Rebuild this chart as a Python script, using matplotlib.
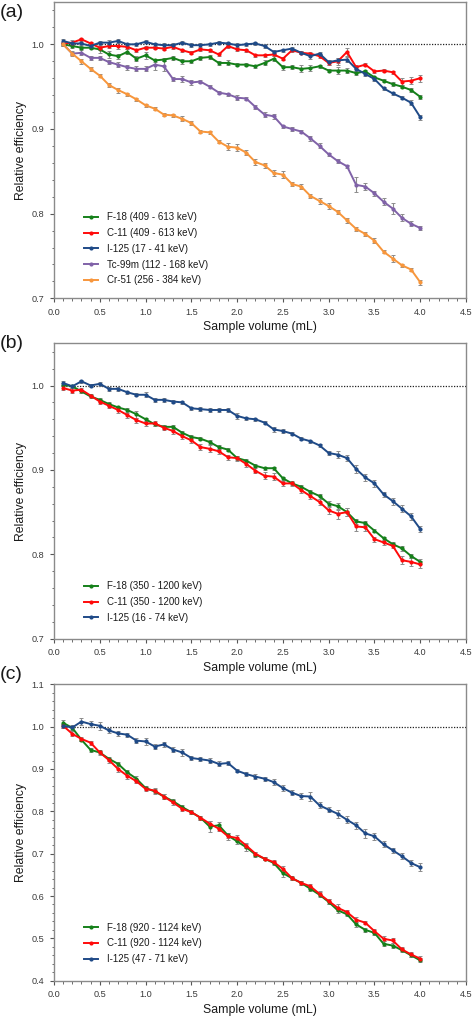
import matplotlib
matplotlib.use("Agg")
import matplotlib.pyplot as plt
from matplotlib.ticker import MultipleLocator

plt.rcParams['font.family'] = ['Liberation Sans', 'DejaVu Sans']

# ---------------- data ----------------
volume = [0.1, 0.2, 0.3, 0.4, 0.5, 0.6, 0.7, 0.8, 0.9, 1.0,
          1.1, 1.2, 1.3, 1.4, 1.5, 1.6, 1.7, 1.8, 1.9, 2.0,
          2.1, 2.2, 2.3, 2.4, 2.5, 2.6, 2.7, 2.8, 2.9, 3.0,
          3.1, 3.2, 3.3, 3.4, 3.5, 3.6, 3.7, 3.8, 3.9, 4.0]

# Panel (a)
a_labels = ["F-18 (409 - 613 keV)", "C-11 (409 - 613 keV)", "I-125 (17 - 41 keV)",
            "Tc-99m (112 - 168 keV)", "Cr-51 (256 - 384 keV)"]
a_f18 = [1.000, 0.998, 0.996, 0.996, 0.994, 0.988, 0.986, 0.991, 0.983, 0.987,
         0.981, 0.982, 0.984, 0.980, 0.980, 0.984, 0.985, 0.978, 0.978, 0.976,
         0.976, 0.974, 0.978, 0.983, 0.973, 0.973, 0.971, 0.972, 0.974, 0.969,
         0.969, 0.969, 0.966, 0.968, 0.961, 0.957, 0.953, 0.950, 0.946, 0.938]
a_c11 = [1.001, 1.002, 1.006, 1.001, 0.996, 0.998, 0.998, 0.997, 0.993, 0.996,
         0.996, 0.995, 0.997, 0.993, 0.990, 0.994, 0.993, 0.988, 0.998, 0.994,
         0.993, 0.987, 0.987, 0.988, 0.983, 0.993, 0.990, 0.989, 0.986, 0.978,
         0.980, 0.991, 0.973, 0.976, 0.968, 0.969, 0.967, 0.956, 0.957, 0.960]
a_i125 = [1.004, 1.001, 1.001, 0.998, 1.002, 1.002, 1.004, 1.000, 1.000, 1.003,
          1.000, 0.999, 0.999, 1.002, 0.999, 0.999, 1.000, 1.002, 1.001, 0.999,
          1.000, 1.001, 0.998, 0.991, 0.993, 0.995, 0.990, 0.986, 0.989, 0.979,
          0.981, 0.982, 0.971, 0.965, 0.959, 0.948, 0.942, 0.937, 0.931, 0.914]
a_tc99m = [1.000, 0.989, 0.990, 0.984, 0.984, 0.979, 0.976, 0.973, 0.971, 0.971,
           0.976, 0.974, 0.959, 0.959, 0.955, 0.956, 0.950, 0.943, 0.941, 0.937,
           0.936, 0.926, 0.917, 0.915, 0.903, 0.900, 0.897, 0.889, 0.880, 0.870,
           0.862, 0.856, 0.834, 0.832, 0.824, 0.814, 0.806, 0.795, 0.788, 0.783]
a_cr51 = [1.000, 0.989, 0.980, 0.971, 0.963, 0.952, 0.946, 0.941, 0.935, 0.928,
          0.924, 0.917, 0.916, 0.912, 0.907, 0.897, 0.896, 0.885, 0.879, 0.878,
          0.872, 0.861, 0.857, 0.848, 0.846, 0.835, 0.832, 0.821, 0.815, 0.809,
          0.802, 0.792, 0.782, 0.776, 0.768, 0.755, 0.747, 0.739, 0.734, 0.719]
a_f18_err = [0.002, 0.002, 0.002, 0.002, 0.004, 0.004, 0.003, 0.003, 0.003, 0.004,
             0.002, 0.002, 0.002, 0.003, 0.002, 0.002, 0.002, 0.002, 0.003, 0.002,
             0.002, 0.002, 0.003, 0.003, 0.003, 0.002, 0.004, 0.003, 0.002, 0.002,
             0.004, 0.003, 0.002, 0.002, 0.002, 0.002, 0.002, 0.002, 0.002, 0.002]
a_c11_err = [0.002, 0.003, 0.002, 0.002, 0.003, 0.002, 0.003, 0.002, 0.002, 0.002,
             0.002, 0.002, 0.002, 0.002, 0.002, 0.002, 0.002, 0.002, 0.002, 0.002,
             0.002, 0.002, 0.002, 0.002, 0.002, 0.002, 0.002, 0.002, 0.002, 0.003,
             0.004, 0.005, 0.002, 0.002, 0.002, 0.002, 0.002, 0.004, 0.004, 0.004]
a_i125_err = [0.002, 0.002, 0.002, 0.002, 0.002, 0.003, 0.002, 0.002, 0.002, 0.002,
              0.002, 0.002, 0.002, 0.002, 0.002, 0.002, 0.002, 0.002, 0.002, 0.002,
              0.002, 0.002, 0.002, 0.002, 0.002, 0.002, 0.002, 0.003, 0.002, 0.003,
              0.003, 0.003, 0.002, 0.002, 0.002, 0.002, 0.002, 0.002, 0.003, 0.003]
a_tc99m_err = [0.002, 0.002, 0.003, 0.002, 0.002, 0.002, 0.003, 0.003, 0.003, 0.003,
               0.006, 0.006, 0.002, 0.003, 0.003, 0.002, 0.002, 0.002, 0.002, 0.003,
               0.002, 0.002, 0.003, 0.003, 0.002, 0.002, 0.002, 0.003, 0.003, 0.002,
               0.002, 0.002, 0.009, 0.004, 0.003, 0.004, 0.006, 0.004, 0.003, 0.002]
a_cr51_err = [0.002, 0.003, 0.003, 0.002, 0.002, 0.002, 0.003, 0.002, 0.002, 0.002,
              0.002, 0.002, 0.002, 0.003, 0.002, 0.002, 0.002, 0.002, 0.004, 0.004,
              0.003, 0.003, 0.003, 0.003, 0.004, 0.002, 0.003, 0.002, 0.004, 0.003,
              0.002, 0.003, 0.002, 0.002, 0.003, 0.002, 0.004, 0.002, 0.002, 0.003]

# Panel (b)
b_labels = ["F-18 (350 - 1200 keV)", "C-11 (350 - 1200 keV)", "I-125 (16 - 74 keV)"]
b_f18 = [1.001, 0.999, 0.993, 0.987, 0.983, 0.978, 0.974, 0.971, 0.966, 0.960,
         0.954, 0.951, 0.951, 0.944, 0.939, 0.937, 0.933, 0.927, 0.924, 0.914,
         0.911, 0.905, 0.902, 0.902, 0.890, 0.884, 0.880, 0.874, 0.869, 0.860,
         0.857, 0.850, 0.839, 0.837, 0.828, 0.819, 0.812, 0.807, 0.798, 0.791]
b_c11 = [0.997, 0.994, 0.995, 0.988, 0.981, 0.976, 0.971, 0.965, 0.959, 0.955,
         0.955, 0.950, 0.946, 0.940, 0.935, 0.927, 0.925, 0.922, 0.915, 0.914,
         0.907, 0.899, 0.893, 0.892, 0.884, 0.884, 0.876, 0.869, 0.862, 0.852,
         0.848, 0.850, 0.833, 0.832, 0.818, 0.814, 0.810, 0.793, 0.791, 0.788]
b_i125 = [1.003, 0.999, 1.005, 1.000, 1.002, 0.996, 0.996, 0.992, 0.989, 0.989,
          0.983, 0.983, 0.981, 0.980, 0.973, 0.972, 0.971, 0.971, 0.971, 0.964,
          0.961, 0.960, 0.956, 0.948, 0.946, 0.943, 0.937, 0.934, 0.929, 0.920,
          0.918, 0.914, 0.901, 0.891, 0.884, 0.871, 0.863, 0.854, 0.845, 0.830]
b_f18_err = [0.002, 0.002, 0.002, 0.002, 0.002, 0.002, 0.002, 0.002, 0.004, 0.002,
             0.002, 0.002, 0.002, 0.002, 0.002, 0.002, 0.002, 0.002, 0.002, 0.002,
             0.002, 0.002, 0.002, 0.002, 0.002, 0.002, 0.002, 0.002, 0.003, 0.003,
             0.004, 0.005, 0.003, 0.002, 0.002, 0.002, 0.002, 0.003, 0.002, 0.003]
b_c11_err = [0.002, 0.003, 0.002, 0.002, 0.003, 0.003, 0.004, 0.003, 0.003, 0.003,
             0.003, 0.003, 0.003, 0.003, 0.003, 0.004, 0.004, 0.003, 0.003, 0.003,
             0.003, 0.003, 0.004, 0.004, 0.003, 0.003, 0.003, 0.003, 0.003, 0.004,
             0.006, 0.005, 0.005, 0.004, 0.003, 0.003, 0.003, 0.005, 0.005, 0.004]
b_i125_err = [0.002, 0.002, 0.002, 0.002, 0.002, 0.002, 0.002, 0.002, 0.002, 0.003,
              0.002, 0.002, 0.002, 0.002, 0.002, 0.002, 0.002, 0.002, 0.002, 0.004,
              0.002, 0.002, 0.002, 0.003, 0.002, 0.002, 0.002, 0.002, 0.002, 0.002,
              0.004, 0.004, 0.005, 0.004, 0.004, 0.003, 0.004, 0.004, 0.004, 0.003]

# Panel (c)
c_labels = ["F-18 (920 - 1124 keV)", "C-11 (920 - 1124 keV)", "I-125 (47 - 71 keV)"]
c_f18 = [1.009, 0.997, 0.969, 0.945, 0.939, 0.924, 0.912, 0.892, 0.877, 0.855,
         0.847, 0.835, 0.824, 0.810, 0.798, 0.785, 0.764, 0.767, 0.743, 0.729,
         0.715, 0.698, 0.688, 0.678, 0.654, 0.642, 0.631, 0.617, 0.603, 0.586,
         0.566, 0.557, 0.533, 0.520, 0.513, 0.487, 0.483, 0.472, 0.460, 0.448]
c_c11 = [1.002, 0.983, 0.971, 0.962, 0.939, 0.921, 0.900, 0.884, 0.871, 0.853,
         0.849, 0.835, 0.821, 0.806, 0.798, 0.785, 0.771, 0.759, 0.741, 0.737,
         0.719, 0.700, 0.688, 0.680, 0.664, 0.642, 0.631, 0.623, 0.605, 0.588,
         0.572, 0.562, 0.544, 0.537, 0.517, 0.499, 0.495, 0.474, 0.462, 0.452]
c_i125 = [1.002, 0.998, 1.012, 1.006, 1.002, 0.991, 0.984, 0.981, 0.967, 0.965,
          0.953, 0.958, 0.946, 0.939, 0.926, 0.923, 0.920, 0.912, 0.914, 0.896,
          0.888, 0.882, 0.877, 0.869, 0.855, 0.844, 0.836, 0.835, 0.814, 0.804,
          0.794, 0.780, 0.767, 0.748, 0.741, 0.722, 0.708, 0.694, 0.678, 0.668]
c_f18_err = [0.006, 0.005, 0.004, 0.004, 0.004, 0.005, 0.005, 0.006, 0.006, 0.005,
             0.006, 0.005, 0.005, 0.005, 0.005, 0.005, 0.012, 0.008, 0.005, 0.006,
             0.008, 0.005, 0.004, 0.005, 0.008, 0.005, 0.004, 0.006, 0.006, 0.006,
             0.006, 0.005, 0.006, 0.005, 0.006, 0.006, 0.006, 0.005, 0.005, 0.005]
c_c11_err = [0.005, 0.006, 0.005, 0.005, 0.005, 0.006, 0.006, 0.008, 0.005, 0.005,
             0.005, 0.005, 0.005, 0.005, 0.005, 0.005, 0.006, 0.005, 0.008, 0.006,
             0.006, 0.005, 0.004, 0.005, 0.008, 0.004, 0.004, 0.006, 0.006, 0.006,
             0.008, 0.006, 0.006, 0.004, 0.005, 0.006, 0.006, 0.005, 0.005, 0.006]
c_i125_err = [0.005, 0.006, 0.008, 0.008, 0.010, 0.005, 0.006, 0.005, 0.006, 0.008,
              0.006, 0.006, 0.005, 0.009, 0.005, 0.005, 0.005, 0.006, 0.005, 0.004,
              0.005, 0.005, 0.005, 0.008, 0.008, 0.006, 0.007, 0.010, 0.007, 0.006,
              0.010, 0.008, 0.008, 0.010, 0.008, 0.007, 0.006, 0.007, 0.007, 0.009]

# ---------------- style ----------------
GREEN = "#15801a"
RED = "#ff0a0a"
BLUE = "#1f4a87"
PURPLE = "#8062a8"
ORANGE = "#f7963c"
FRAME = "#8a8a8a"
TICKTXT = "#3a3a3a"

W, H = 472, 1018
fig = plt.figure(figsize=(W / 100, H / 100), dpi=100)


def make_axes(top_px, bottom_px):
    return fig.add_axes([54 / W, 1 - bottom_px / H, 412 / W, (bottom_px - top_px) / H])


def style_axes(ax, ylim, yminor):
    ax.set_xlim(0, 4.5)
    ax.set_ylim(*ylim)
    ax.xaxis.set_major_locator(MultipleLocator(0.5))
    ax.xaxis.set_minor_locator(MultipleLocator(0.1))
    ax.yaxis.set_major_locator(MultipleLocator(0.1))
    ax.yaxis.set_minor_locator(MultipleLocator(yminor))
    ax.xaxis.set_major_formatter(plt.FuncFormatter(lambda v, p: f"{v:.1f}"))
    ax.yaxis.set_major_formatter(plt.FuncFormatter(lambda v, p: f"{v:.1f}"))
    for s in ax.spines.values():
        s.set_color(FRAME)
        s.set_linewidth(1.0)
    ax.tick_params(which='both', direction='out', color="#555555",
                   labelsize=6.6, labelcolor=TICKTXT, top=False, right=False)
    ax.tick_params(which='major', length=3, width=0.8, pad=4)
    ax.tick_params(which='minor', length=1.8, width=0.6)
    ax.set_xlabel("Sample volume (mL)", fontsize=8.8, color="#1a1a1a")
    ax.set_ylabel("Relative efficiency", fontsize=8.8, color="#1a1a1a")
    ax.yaxis.set_label_coords(-0.066, 0.5)
    ax.xaxis.set_label_coords(0.5, -0.078)
    ax.hlines(1.0, 0.1, 4.5, colors="#222222", linestyles=(0, (1.0, 1.2)),
              linewidth=0.9, zorder=1)


def plot_series(ax, ys, errs, color, label):
    ax.errorbar(volume, ys, yerr=errs, fmt='none', ecolor="#8c8c8c",
                elinewidth=0.8, capsize=1.4, capthick=0.7, zorder=2)
    ax.plot(volume, ys, '-o', color=color, lw=1.4, ms=3.0, mew=0,
            label=label, zorder=3)


def add_legend(ax, y_anchor):
    ax.legend(loc='upper left', bbox_to_anchor=(0.072, y_anchor), frameon=False,
              fontsize=7.0, handlelength=1.5, handletextpad=0.9,
              labelspacing=0.6, borderpad=0, borderaxespad=0,
              labelcolor="#1a1a1a")


# (a)
ax_a = make_axes(2, 298.3)
style_axes(ax_a, (0.7, 1.05), 0.02)
for ys, er, col, lab in zip([a_f18, a_c11, a_i125, a_tc99m, a_cr51],
                            [a_f18_err, a_c11_err, a_i125_err, a_tc99m_err, a_cr51_err],
                            [GREEN, RED, BLUE, PURPLE, ORANGE], a_labels):
    plot_series(ax_a, ys, er, col, lab)
add_legend(ax_a, 0.291)

# (b)
ax_b = make_axes(343.3, 638.7)
style_axes(ax_b, (0.7, 1.05), 0.02)
for ys, er, col, lab in zip([b_f18, b_c11, b_i125],
                            [b_f18_err, b_c11_err, b_i125_err],
                            [GREEN, RED, BLUE], b_labels):
    plot_series(ax_b, ys, er, col, lab)
add_legend(ax_b, 0.195)

# (c)
ax_c = make_axes(684.3, 980.7)
style_axes(ax_c, (0.4, 1.1), 0.02)
for ys, er, col, lab in zip([c_f18, c_c11, c_i125],
                            [c_f18_err, c_c11_err, c_i125_err],
                            [GREEN, RED, BLUE], c_labels):
    plot_series(ax_c, ys, er, col, lab)
add_legend(ax_c, 0.196)

fig.text(0.0, 1 - 4 / H, "(a)", fontsize=14, va='top', ha='left', color="#1a1a1a")
fig.text(0.0, 1 - 335 / H, "(b)", fontsize=14, va='top', ha='left', color="#1a1a1a")
fig.text(0.0, 1 - 666 / H, "(c)", fontsize=14, va='top', ha='left', color="#1a1a1a")

fig.savefig("out.png", dpi=100)
